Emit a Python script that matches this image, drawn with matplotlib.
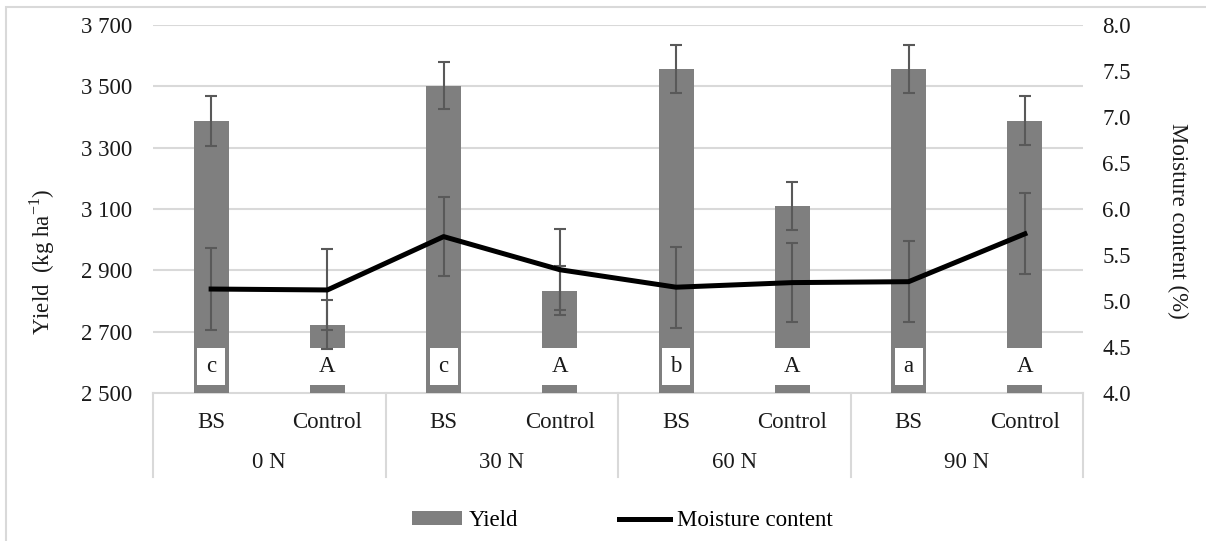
"""Rendimiento y humedad por dosis de N: barras con letras y línea en eje secundario."""

import matplotlib
matplotlib.use('Agg')
import matplotlib.pyplot as plt
from matplotlib.lines import Line2D
from matplotlib.patches import Patch, Rectangle

plt.rcParams['font.family'] = ['Liberation Serif', 'DejaVu Serif']
plt.rcParams['mathtext.fontset'] = 'custom'
plt.rcParams['mathtext.rm'] = 'Liberation Serif'

# Datos
grupos = ['0 N', '30 N', '60 N', '90 N']
tratamientos = ['BS', 'Control']
rendimiento = [3387, 2722, 3502, 2833, 3556, 3110, 3556, 3388]
err_rendimiento = [80, 80, 77, 80, 78, 78, 78, 80]
humedad = [5.13, 5.12, 5.70, 5.34, 5.15, 5.20, 5.21, 5.73]
err_humedad = [0.45, 0.44, 0.43, 0.44, 0.44, 0.43, 0.44, 0.44]
letras = ['c', 'A', 'c', 'A', 'b', 'A', 'a', 'A']
ticks_rend = [2500, 2700, 2900, 3100, 3300, 3500, 3700]
etiquetas_rend = ['2 500', '2 700', '2 900', '3 100', '3 300', '3 500', '3 700']
ticks_hum = [4.0, 4.5, 5.0, 5.5, 6.0, 6.5, 7.0, 7.5, 8.0]

GRIS = '#7f7f7f'
GRIS_ERR = '#595959'
GRIS_CLARO = '#d9d9d9'
TEXTO = '#1a1a1a'
FS = 16.5

W, H = 1206, 541
fig = plt.figure(figsize=(W / 100, H / 100), dpi=100)

# borde del área del gráfico
fig.patches.append(Rectangle((6 / W, -0.05), 1.2, 1 - 7 / H + 0.05, transform=fig.transFigure,
                             fill=False, edgecolor=GRIS_CLARO, lw=1.5))

ax = fig.add_axes([153 / W, 1 - 393 / H, 930 / W, 368 / H])
x = list(range(len(rendimiento)))
ancho = 0.3

ax.bar(x, rendimiento, width=ancho, color=GRIS, zorder=2)
ax.errorbar(x, rendimiento, yerr=err_rendimiento, fmt='none', ecolor=GRIS_ERR,
            elinewidth=1.5, capsize=4.5, capthick=1.5, zorder=4)

# cajas blancas con letras al pie de cada barra
for i, letra in enumerate(letras):
    w = ancho if i % 2 else 0.24
    ax.add_patch(Rectangle((i - w / 2, 2526), w, 121, facecolor='white', edgecolor='none', zorder=3))
    ax.text(i, 2586, letra, ha='center', va='center', fontsize=FS, color=TEXTO, zorder=5)

ax.set_xlim(-0.5, len(x) - 0.5)
ax.set_ylim(ticks_rend[0], ticks_rend[-1])
ax.set_yticks(ticks_rend)
ax.set_yticklabels(etiquetas_rend)
ax.set_xticks([])
ax.tick_params(axis='y', length=0, pad=15, labelsize=FS, labelcolor=TEXTO)
for s in ax.spines.values():
    s.set_visible(False)
for t in ticks_rend[1:]:
    ax.axhline(t, color=GRIS_CLARO, lw=1.5, zorder=0)
ax.axhline(ticks_rend[0], color=GRIS_CLARO, lw=1.5, zorder=1, clip_on=False)

# eje de categorías de dos niveles
trans = ax.get_xaxis_transform()
for b in range(len(grupos) + 1):
    xb = b * len(tratamientos) - 0.5
    ax.plot([xb, xb], [0, -0.228], transform=trans, color=GRIS_CLARO, lw=1.5, clip_on=False)
for i in x:
    ax.text(i, -0.079, tratamientos[i % 2], transform=trans, ha='center', va='center',
            fontsize=FS, color=TEXTO)
for g, nombre in enumerate(grupos):
    ax.text(g * 2 + 0.5, -0.1875, nombre, transform=trans, ha='center', va='center',
            fontsize=FS, color=TEXTO)

# eje secundario: humedad
ax2 = ax.twinx()
ax2.errorbar(x, humedad, yerr=err_humedad, fmt='none', ecolor=GRIS_ERR,
             elinewidth=1.5, capsize=4.5, capthick=1.5, zorder=2)
ax2.plot(x, humedad, color='black', lw=3.6, solid_joinstyle='round', zorder=3)
ax2.set_ylim(ticks_hum[0], ticks_hum[-1])
ax2.set_yticks(ticks_hum)
ax2.set_yticklabels([f'{v:.1f}' for v in ticks_hum])
ax2.tick_params(axis='y', length=0, pad=14, labelsize=FS, labelcolor=TEXTO)
for s in ax2.spines.values():
    s.set_visible(False)

fig.text(42 / W, 1 - 262 / H, 'Yield  (kg ha$^{-1}$)', rotation=90, ha='center', va='center',
         fontsize=FS, color=TEXTO)
fig.text(1178 / W, 1 - 221 / H, 'Moisture content (%)', rotation=270, ha='center', va='center',
         fontsize=FS, color=TEXTO)

manejadores = [Patch(facecolor=GRIS, edgecolor='none'), Line2D([], [], color='black', lw=3.6)]
fig.legend(manejadores, ['Yield', 'Moisture content'], loc='center',
           bbox_to_anchor=(622 / W, 1 - 521 / H), ncol=2, frameon=False, fontsize=FS,
           handlelength=2.2, handleheight=0.55, handletextpad=0.3, columnspacing=4.4)

fig.savefig('out.png', dpi=100)
